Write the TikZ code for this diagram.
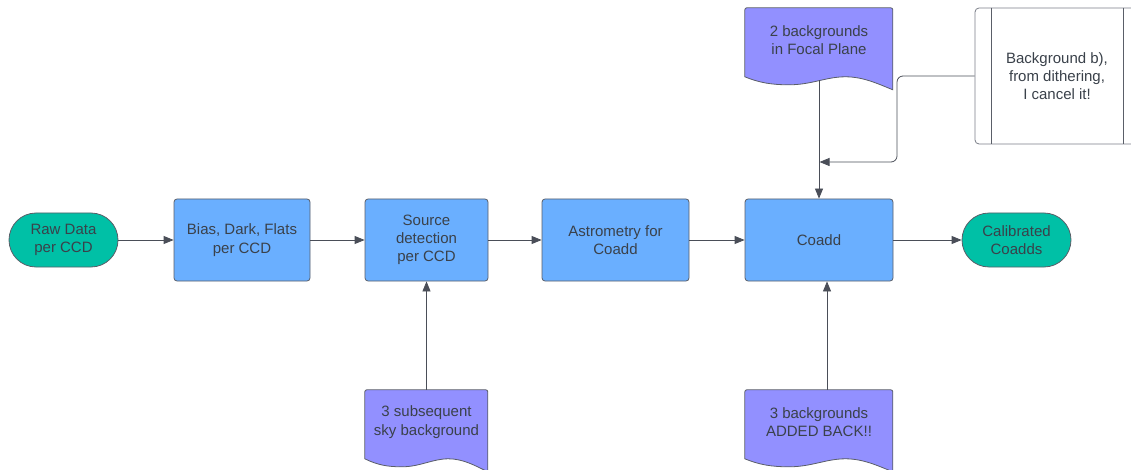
\documentclass[tikz,border=0pt]{standalone}
\usepackage{fontspec}
\setmainfont{Liberation Sans}
\usetikzlibrary{arrows.meta,backgrounds}
\definecolor{termc}{HTML}{00C0A6}
\definecolor{procc}{HTML}{6AAFFF}
\definecolor{docc}{HTML}{9290FF}
\definecolor{txtc}{HTML}{3A414A}
\definecolor{edgec}{HTML}{5A5E68}
\definecolor{connc}{HTML}{4A4E58}
\definecolor{lightedge}{HTML}{7A7E88}
\newcommand\docbg[2]{%
\begin{scope}[shift={(#1.north west)}]
\path[docfill] (0,69) [rounded corners=2pt]-- (0,0) -- (#2,0) [sharp corners]-- (#2,82)
 .. controls (0.9*#2,76) and (0.8*#2,69) .. (0.68*#2,69)
 .. controls (0.55*#2,69) and (0.45*#2,77) .. (0.3*#2,77)
 .. controls (0.18*#2,77) and (0.1*#2,75) .. (0,69) -- cycle;
\end{scope}}
\begin{document}
\begin{tikzpicture}[x=1pt,y=-1pt,
 every node/.style={font=\fontsize{15}{18.3}\selectfont, text=txtc, align=center, inner sep=0pt},
 termbox/.style={draw=edgec, fill=termc, line width=0.8pt, rounded corners=27pt, minimum width=109pt, minimum height=54pt},
 procbox/.style={draw=edgec, fill=procc, line width=0.8pt, rounded corners=3pt, minimum height=82pt},
 doctext/.style={minimum height=64pt},
 docfill/.style={draw=edgec, fill=docc, line width=0.8pt},
 arr/.style={draw=connc, line width=0.8pt, -{Triangle[length=10pt,width=8pt]}},
]
\useasboundingbox (0,0) rectangle (1131,470);
\clip (0,0) rectangle (1131,470);

\node[termbox] (raw) at (63.5,240) {Raw Data\\per CCD};
\node[procbox, minimum width=136pt] (bias) at (242,240) {Bias, Dark, Flats\\per CCD};
\node[procbox, minimum width=123pt] (src) at (426.5,240) {Source\\detection\\per CCD};
\node[procbox, minimum width=147pt] (astro) at (615.5,240) {Astrometry for\\Coadd};
\node[procbox, minimum width=148pt] (coadd) at (819,240) {Coadd};
\node[termbox] (cal) at (1016.5,240) {Calibrated\\Coadds};

\node[doctext, minimum width=148pt] (fp) at (819,40) {2 backgrounds\\in Focal Plane};
\node[doctext, minimum width=123pt] (sky) at (426.5,422) {3 subsequent\\sky background};
\node[doctext, minimum width=148pt] (added) at (819,422) {3 backgrounds\\ADDED BACK!!};

\node[draw=lightedge, fill=white, line width=0.8pt, rounded corners=4pt, minimum width=164pt, minimum height=136pt] (dith) at (1057,76) {Background b),\\from dithering,\\I cancel it!};
\draw[draw=edgec, line width=0.8pt] ([xshift=17pt]dith.north west) -- ([xshift=17pt]dith.south west);
\draw[draw=edgec, line width=0.8pt] ([xshift=-16pt]dith.north east) -- ([xshift=-16pt]dith.south east);

\begin{pgfonlayer}{background}
\docbg{fp}{148}
\docbg{sky}{123}
\docbg{added}{148}
\end{pgfonlayer}

\draw[arr] (raw.east) -- (bias.west);
\draw[arr] (bias.east) -- (src.west);
\draw[arr] (src.east) -- (astro.west);
\draw[arr] (astro.east) -- (coadd.west);
\draw[arr] (coadd.east) -- (cal.west);

\draw[arr] ([yshift=-8pt]fp.south) -- (coadd.north);
\coordinate (mrg) at (819.5,162);
\coordinate (bend) at (897,162);
\draw[arr, rounded corners=6pt] (dith.west) -| (bend) -- (mrg);

\draw[arr] (sky.north) -- (src.south);
\draw[arr] ([xshift=8pt]added.north) -- ([xshift=8pt]coadd.south);
\end{tikzpicture}
\end{document}
